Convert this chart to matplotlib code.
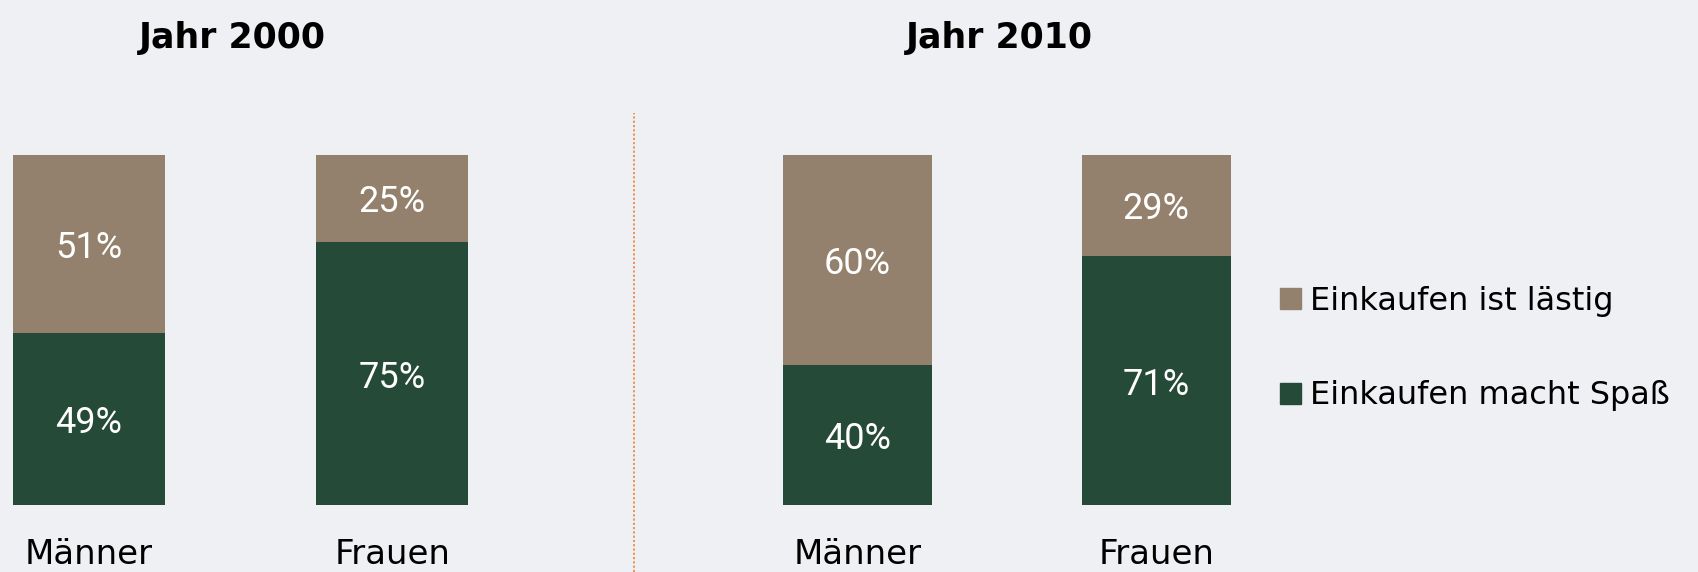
import matplotlib
matplotlib.use("Agg")
import matplotlib.pyplot as plt
from matplotlib.patches import Patch
from matplotlib.lines import Line2D
import numpy as np

years = ["Jahr 2000", "Jahr 2010"]
groups = ["Männer", "Frauen"]
spass = {"Jahr 2000": [49, 75], "Jahr 2010": [40, 71]}
laestig = {"Jahr 2000": [51, 25], "Jahr 2010": [60, 29]}
series_names = ["Einkaufen ist lästig", "Einkaufen macht Spaß"]

bg = "#eff0f4"
c_brown = "#93816d"
c_green = "#264a38"

W, H = 1698, 572
fig = plt.figure(figsize=(W / 100, H / 100), dpi=100, facecolor=bg)

# axes boxes in pixels: (left, right)
boxes = [(13, 468), (783, 1231)]
bottom, top = 505, 154.5

for year, (l, r) in zip(years, boxes):
    ax = fig.add_axes([l / W, 1 - bottom / H, (r - l) / W, (bottom - top) / H])
    ax.set_facecolor(bg)
    x = np.arange(len(groups))
    g = spass[year]
    b = laestig[year]
    ax.bar(x, g, width=0.5, color=c_green)
    ax.bar(x, b, width=0.5, bottom=g, color=c_brown)
    for xi, gv, bv in zip(x, g, b):
        ax.text(xi, gv / 2, f"{gv}%", ha="center", va="center_baseline",
                color="white", fontsize=26, family="Roboto")
        ax.text(xi, gv + bv / 2, f"{bv}%", ha="center", va="center_baseline",
                color="white", fontsize=26, family="Roboto")
    ax.set_xlim(-0.25, 1.25)
    ax.set_ylim(0, 100)
    ax.set_xticks(x)
    ax.set_xticklabels(groups, fontsize=24.5, family="DejaVu Sans")
    ax.tick_params(axis="x", length=0, pad=24)
    ax.set_yticks([])
    for s in ax.spines.values():
        s.set_visible(False)
    ax.set_title(year, fontsize=25, fontweight="bold", pad=77, x=0.483)

# dotted divider
fig.add_artist(Line2D([634 / W, 634 / W], [0, 1 - 113 / H], color="#f07820",
                      lw=1.1, linestyle=(0, (1.4, 1.4))))

handles = [Patch(color=c_brown), Patch(color=c_green)]
fig.legend(handles, series_names, loc="center left",
           bbox_to_anchor=(1280 / W, 1 - 348.5 / H), frameon=False,
           fontsize=23, handlelength=0.65, handleheight=0.65,
           handletextpad=0.3, labelspacing=2.0, borderpad=0, borderaxespad=0)

plt.savefig("out.png", dpi=100, facecolor=bg)
